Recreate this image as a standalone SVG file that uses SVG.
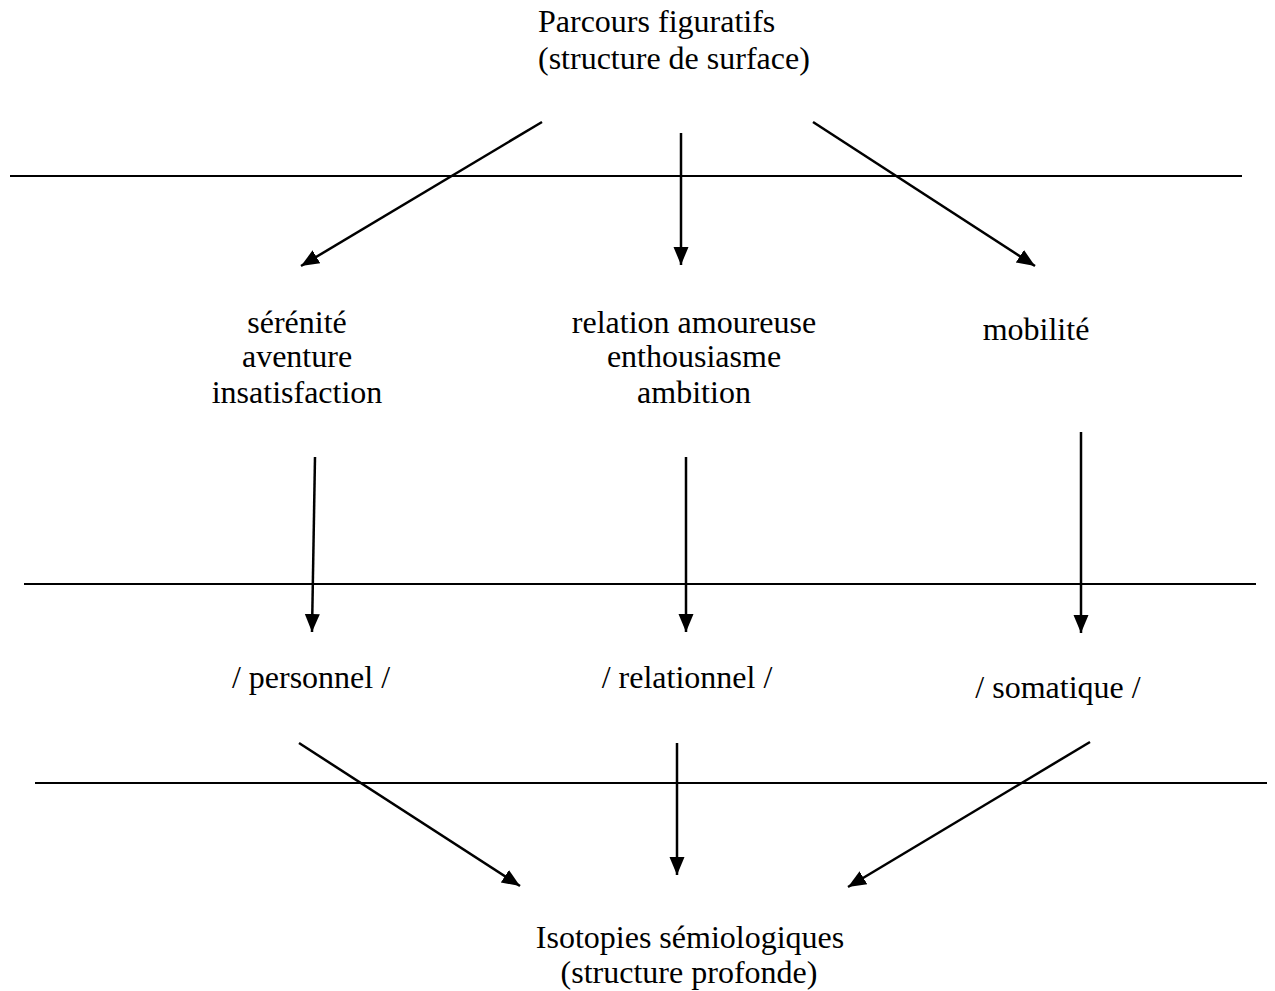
<svg xmlns="http://www.w3.org/2000/svg" width="1275" height="991" viewBox="0 0 1275 991">
  <style>
    .t { font-family: "Liberation Serif", "Times New Roman", serif; font-size: 32px; fill: #000; }
    .c { text-anchor: middle; }
    .rule { stroke: #000; stroke-width: 2; fill: none; }
    .arr { stroke: #000; stroke-width: 2.5; fill: none; marker-end: url(#head); }
  </style>
  <defs>
    <marker id="head" markerUnits="userSpaceOnUse" markerWidth="20" markerHeight="18" refX="18" refY="9" orient="auto">
      <path d="M0,1.5 L18,9 L0,16.5 Z" fill="#000"/>
    </marker>
  </defs>
  <rect width="1275" height="991" fill="#fff"/>

  <!-- level separators -->
  <g id="separators">
    <line class="rule" x1="10" y1="176" x2="1242" y2="176"/>
    <line class="rule" x1="24" y1="584" x2="1256" y2="584"/>
    <line class="rule" x1="35" y1="783" x2="1267" y2="783"/>
  </g>

  <g id="surface">
    <text class="t" x="538" y="32">Parcours figuratifs</text>
    <text class="t" x="538" y="69">(structure de surface)</text>
  </g>

  <g id="figures-left">
    <text class="t c" x="297" y="333">sérénité</text>
    <text class="t c" x="297" y="367">aventure</text>
    <text class="t c" x="297" y="403">insatisfaction</text>
  </g>

  <g id="figures-middle">
    <text class="t c" x="694" y="333">relation amoureuse</text>
    <text class="t c" x="694" y="367">enthousiasme</text>
    <text class="t c" x="694" y="403">ambition</text>
  </g>

  <g id="figures-right">
    <text class="t c" x="1036" y="340">mobilité</text>
  </g>

  <g id="iso-personnel">
    <text class="t c" x="311" y="688">/ personnel /</text>
  </g>
  <g id="iso-relationnel">
    <text class="t c" x="687" y="688">/ relationnel /</text>
  </g>
  <g id="iso-somatique">
    <text class="t c" x="1058" y="698">/ somatique /</text>
  </g>

  <g id="deep">
    <text class="t c" x="690" y="948">Isotopies sémiologiques</text>
    <text class="t c" x="689" y="983">(structure profonde)</text>
  </g>

  <!-- connectors -->
  <g id="connectors">
    <line class="arr" x1="542" y1="122" x2="301" y2="266"/>
    <line class="arr" x1="681" y1="133" x2="681" y2="265"/>
    <line class="arr" x1="813" y1="122" x2="1035" y2="266"/>
    <line class="arr" x1="315" y1="457" x2="312" y2="632"/>
    <line class="arr" x1="686" y1="457" x2="686" y2="632"/>
    <line class="arr" x1="1081" y1="432" x2="1081" y2="633"/>
    <line class="arr" x1="299" y1="743" x2="520" y2="886"/>
    <line class="arr" x1="677" y1="743" x2="677" y2="875"/>
    <line class="arr" x1="1090" y1="742" x2="848" y2="887"/>
  </g>
</svg>
